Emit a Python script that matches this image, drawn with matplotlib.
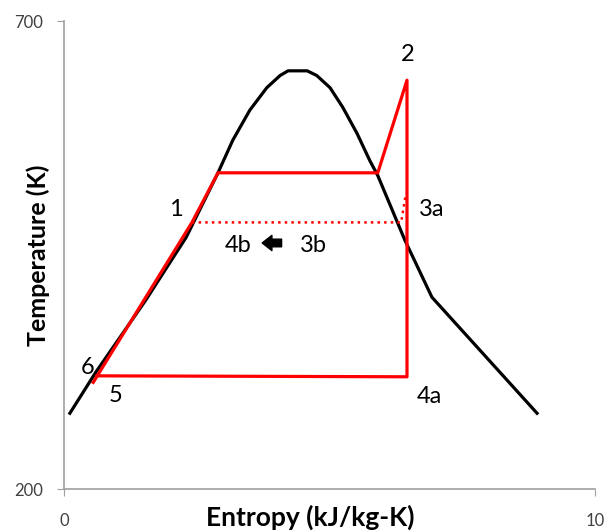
# T-s diagram of a vapour compression cycle with its saturation dome
import matplotlib.pyplot as plt

plt.rcParams['font.family'] = ['Lato', 'DejaVu Sans']

# saturation dome (black)
dome_s = [0.11, 0.60, 1.54, 2.30, 2.90, 3.18, 3.50, 3.82, 4.07, 4.22, 4.58, 4.76,
          5.01, 5.25, 5.52, 5.76, 5.91, 6.42, 6.93, 8.91]
dome_T = [281, 325, 402, 469, 538, 573, 605, 629, 642, 647, 647, 642,
          629, 608, 580, 551, 535, 466, 405, 281]

# cycle (red): 6 -> 1 -> top line -> 2 -> 4a -> 5
cyc_s = [0.55, 2.41, 2.90, 5.91, 6.46, 6.46, 0.62]
cyc_T = [314, 485, 538, 538, 637, 320, 321]

# dotted path 1 -> 3b -> 3a
dot_s = [2.41, 6.35, 6.44]
dot_T = [485, 485, 516]

labels = ['2', '1', '3a', '4b', '3b', '6', '5', '4a']
label_s = [6.47, 2.10, 6.93, 3.28, 4.70, 0.45, 0.98, 6.88]
label_T = [664, 499, 499, 460, 460, 330, 300, 299]

fig = plt.figure(figsize=(6.04, 5.31), dpi=100)
ax = fig.add_axes([0.106, 0.079, 0.879, 0.881])

ax.plot(dome_s, dome_T, color='black', lw=2.3)
ax.plot(cyc_s, cyc_T, color='#ff0000', lw=2.3)
ax.plot(dot_s, dot_T, color='#ff0000', lw=1.8, ls=':')

for t, x, y in zip(labels, label_s, label_T):
    ax.text(x, y, t, fontsize=17, color='black', ha='center', va='center')

ax.annotate('', xy=(3.68, 463), xytext=(4.15, 463),
            arrowprops=dict(arrowstyle='simple,head_width=1.1,head_length=0.7,tail_width=0.55',
                            color='black'))

ax.set_xlim(0, 10)
ax.set_ylim(200, 700)
ax.set_xticks([0, 10])
ax.set_yticks([200, 700])
for side in ['top', 'right']:
    ax.spines[side].set_visible(False)
for side in ['left', 'bottom']:
    ax.spines[side].set_color('#a0a0a0')
    ax.spines[side].set_linewidth(1.2)
ax.tick_params(colors='#a0a0a0', labelcolor='#404040', labelsize=12, length=5)
ax.tick_params(axis='x', pad=12)
ax.tick_params(axis='y', pad=10)

ax.set_xlabel('Entropy (kJ/kg-K)', fontsize=19, fontweight='bold')
ax.set_ylabel('Temperature (K)', fontsize=18, fontweight='bold')
ax.xaxis.set_label_coords(0.463, -0.034)
ax.yaxis.set_label_coords(-0.027, 0.5)

fig.savefig('out.png', dpi=100)
